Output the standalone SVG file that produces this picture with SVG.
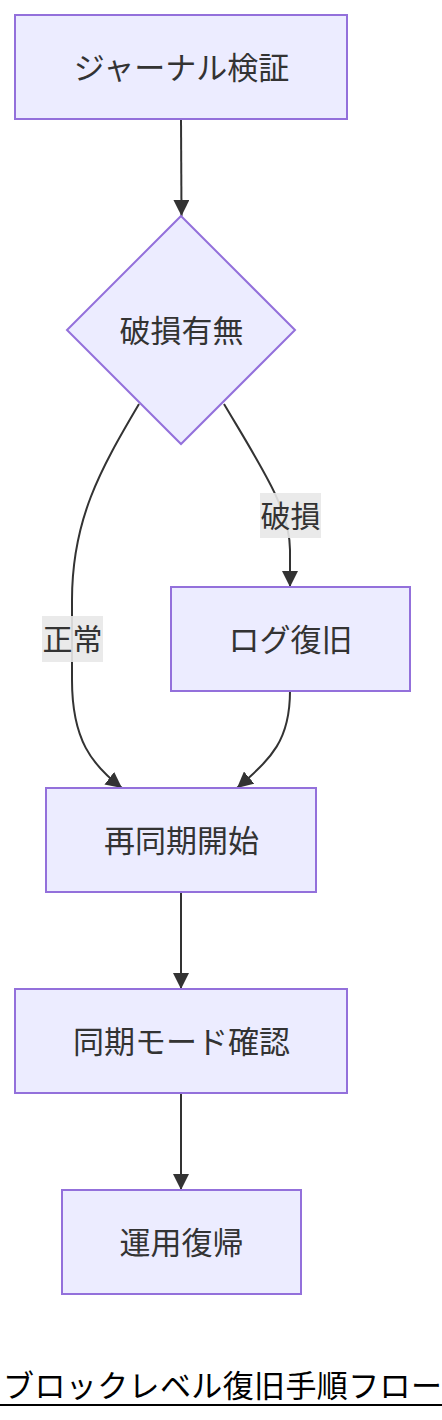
<svg xmlns="http://www.w3.org/2000/svg" width="442" height="1420" viewBox="0 0 442 1420">
<style>
.node rect,.node polygon{fill:#ECECFF;stroke:#9370DB;stroke-width:2}
.node text{font-family:"Noto Sans CJK JP","Noto Sans",sans-serif;font-size:31px;fill:#333;text-anchor:middle;dominant-baseline:central}
.edge{fill:none;stroke:#333;stroke-width:2}
.lbl rect{fill:#e8e8e8;opacity:0.9}
.lbl text{font-family:"Noto Sans CJK JP","Noto Sans",sans-serif;font-size:30px;fill:#333;text-anchor:middle;dominant-baseline:central}
.title{font-family:"Noto Sans CJK JP","Noto Sans",sans-serif;font-size:31px;fill:#000;dominant-baseline:central}
</style>
<defs>
<marker id="arrow" viewBox="0 0 10 10" refX="10" refY="5" markerWidth="16" markerHeight="16" markerUnits="userSpaceOnUse" orient="auto">
<path d="M0,0 L10,5 L0,10 z" fill="#333"/>
</marker>
</defs>
<rect width="442" height="1420" fill="#fff"/>
<g id="edges">
<path class="edge" d="M181,119 L181.5,216" marker-end="url(#arrow)"/>
<path class="edge" d="M139,404 C100,470 72,520 72,600 L72,680 C72,740 92,765 122,788" marker-end="url(#arrow)"/>
<path class="edge" d="M224,404 C262,468 290,510 290,550 L290,587" marker-end="url(#arrow)"/>
<path class="edge" d="M290,691 C290,740 272,758 237,788" marker-end="url(#arrow)"/>
<path class="edge" d="M181,892 L181,989" marker-end="url(#arrow)"/>
<path class="edge" d="M181,1093 L181,1190" marker-end="url(#arrow)"/>
<g class="lbl" id="label-hason"><rect x="260" y="493" width="61" height="45"/><text x="290.5" y="513.5">破損</text></g>
<g class="lbl" id="label-seijou"><rect x="42" y="616" width="61" height="46"/><text x="72.5" y="637">正常</text></g>
</g>
<g id="n1" class="node"><rect x="15" y="15" width="332" height="104"/><text x="181.5" y="65">ジャーナル検証</text></g>
<g id="n2" class="node"><polygon points="181,216 295,330 181,444 67,330"/><text x="181.5" y="328">破損有無</text></g>
<g id="n3" class="node"><rect x="171" y="587" width="239" height="104"/><text x="290.5" y="637">ログ復旧</text></g>
<g id="n4" class="node"><rect x="46" y="788" width="270" height="104"/><text x="181.5" y="838">再同期開始</text></g>
<g id="n5" class="node"><rect x="15" y="989" width="332" height="104"/><text x="181.5" y="1039">同期モード確認</text></g>
<g id="n6" class="node"><rect x="62" y="1190" width="239" height="104"/><text x="181.5" y="1240">運用復帰</text></g>
<g id="title"><text class="title" x="3" y="1383" textLength="439" lengthAdjust="spacing">ブロックレベル復旧手順フロー</text><line x1="0" y1="1405" x2="442" y2="1405" stroke="#000" stroke-width="2"/></g>
</svg>
